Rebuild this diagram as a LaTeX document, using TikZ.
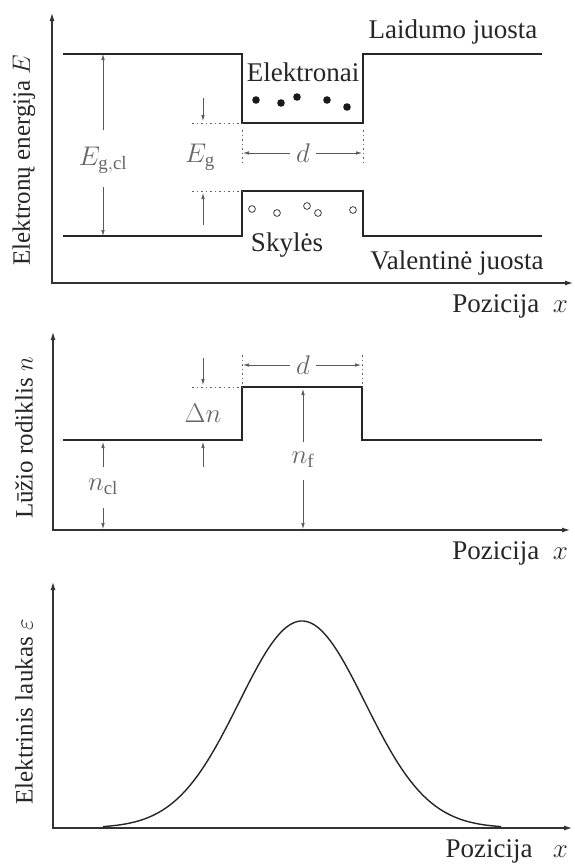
\RequirePackage{fix-cm}
\documentclass[tikz,border=0pt]{standalone}
\usepackage{fontspec}
\setmainfont{Liberation Serif}
\usetikzlibrary{arrows.meta}
\tikzset{
  band/.style={line width=1.7pt, draw=black!85, line join=miter},
  axisline/.style={line width=1.1pt, draw=black!80, {Latex[length=8pt,width=5pt]}-{Latex[length=8pt,width=5pt]}},
  dimarrow/.style={line width=0.6pt, draw=black!65, -{Latex[length=6pt,width=3.5pt]}},
  dotline/.style={draw=black!60, line width=0.8pt, dash pattern=on 1.5pt off 3pt},
  lbl/.style={text=black!85, inner sep=0pt},
  poz/.style={text=black!85, inner sep=0pt, anchor=east},
  ylbl/.style={text=black!85, inner sep=0pt, rotate=90, font=\fontsize{25}{30}\selectfont},
  mlbl/.style={text=black!60, inner sep=0pt},
  elec/.style={fill=black!90, draw=none},
  hole/.style={draw=black!75, line width=0.8pt, fill=white}
}
\begin{document}
\begin{tikzpicture}[x=1pt,y=-1pt,font=\fontsize{27}{32}\selectfont]
\useasboundingbox (0,0) rectangle (574,865);

% ---------- Panel 1 ----------
\coordinate (y1) at (52,13);
\coordinate (o1) at (52,283);
\coordinate (x1) at (573,283);
\draw[axisline] (y1) -- (o1) -- (x1);

\draw[band] (63,54) -- (242,54) -- (242,123) -- (363,123) -- (363,54) -- (542,54);
\draw[band] (63,236) -- (242,236) -- (242,191) -- (363,191) -- (363,236) -- (542,236);

\draw[dotline] (192,123) -- (242,123);
\draw[dotline] (192,191) -- (242,191);
\draw[dotline] (242,130) -- (242,165);
\draw[dotline] (363,130) -- (363,165);

\foreach \px/\py in {256/100,281/103,297/97,327/100,347/107}
  \fill[elec] (\px,\py) circle (3.8pt);
\foreach \px/\py in {252/209,277/213,307/206,318/213,353/210}
  \draw[hole] (\px,\py) circle (3.4pt);

\node[lbl] (laid) at (453,32) {Laidumo juosta};
\node[lbl] (elek) at (303,72) {Elektronai};
\node[lbl] (skyl) at (287,245) {Skylės};
\node[lbl] (val) at (457,263) {Valentinė juosta};
\node[poz] (poz1) at (568,306) {Pozicija\ \ $x$};
\node[ylbl] (ylab1) at (24,160) {Elektronų energija $E$};

\node[mlbl] (egcl) at (103,160) {$E_{\mathrm{g,cl}}$};
\coordinate (egclA) at (103,130); \coordinate (egclT) at (103,54);
\coordinate (egclB) at (103,187); \coordinate (egclD) at (103,236);
\draw[dimarrow] (egclA) -- (egclT);
\draw[dimarrow] (egclB) -- (egclD);

\node[mlbl] (eg) at (200,157) {$E_{\mathrm{g}}$};
\coordinate (egA) at (203,98); \coordinate (egT) at (203,121);
\coordinate (egB) at (203,225); \coordinate (egD) at (203,193);
\draw[dimarrow] (egA) -- (egT);
\draw[dimarrow] (egB) -- (egD);

\node[mlbl] (d1) at (303,153) {$d$};
\coordinate (d1l) at (243,153); \coordinate (d1r) at (362,153);
\draw[dimarrow] (d1.west) ++(-6pt,0) -- (d1l);
\draw[dimarrow] (d1.east) ++(6pt,0) -- (d1r);

% ---------- Panel 2 ----------
\coordinate (y2) at (53,332);
\coordinate (o2) at (53,530);
\coordinate (x2) at (570,530);
\draw[axisline] (y2) -- (o2) -- (x2);

\draw[band] (63,440) -- (242,440) -- (242,387) -- (362,387) -- (362,440) -- (542,440);
\draw[dotline] (192,387) -- (242,387);
\draw[dotline] (242,355) -- (242,387);
\draw[dotline] (362,355) -- (362,387);

\node[mlbl] (d2) at (303,365) {$d$};
\coordinate (d2l) at (243,365); \coordinate (d2r) at (361,365);
\draw[dimarrow] (d2.west) ++(-6pt,0) -- (d2l);
\draw[dimarrow] (d2.east) ++(6pt,0) -- (d2r);

\node[mlbl] (dn) at (203,413) {$\Delta n$};
\coordinate (dnA) at (203,358); \coordinate (dnT) at (203,385);
\coordinate (dnB) at (203,467); \coordinate (dnD) at (203,442);
\draw[dimarrow] (dnA) -- (dnT);
\draw[dimarrow] (dnB) -- (dnD);

\node[mlbl] (ncl) at (103,487) {$n_{\mathrm{cl}}$};
\coordinate (nclA) at (103,467); \coordinate (nclT) at (103,442);
\coordinate (nclB) at (103,508); \coordinate (nclD) at (103,529);
\draw[dimarrow] (nclA) -- (nclT);
\draw[dimarrow] (nclB) -- (nclD);

\node[mlbl] (nf) at (303,460) {$n_{\mathrm{f}}$};
\coordinate (nfA) at (303,442); \coordinate (nfT) at (303,389);
\coordinate (nfB) at (303,480); \coordinate (nfD) at (303,529);
\draw[dimarrow] (nfA) -- (nfT);
\draw[dimarrow] (nfB) -- (nfD);

\node[poz] (poz2) at (568,553) {Pozicija\ \ $x$};
\node[ylbl] (ylab2) at (24,438) {Lūžio rodiklis $n$};

% ---------- Panel 3 ----------
\coordinate (y3) at (53,582);
\coordinate (o3) at (53,828);
\coordinate (x3) at (572,828);
\draw[axisline] (y3) -- (o3) -- (x3);

\draw[band,line width=1.4pt] plot[domain=103:501,samples=160,smooth]
  (\x,{828-207*exp(-0.5*((\x-302)/63)^2)});

\node[poz] (poz3) at (568,851) {Pozicija\ \ \ $x$};
\node[ylbl] (ylab3) at (24,712) {Elektrinis laukas $\varepsilon$};
\end{tikzpicture}
\end{document}
